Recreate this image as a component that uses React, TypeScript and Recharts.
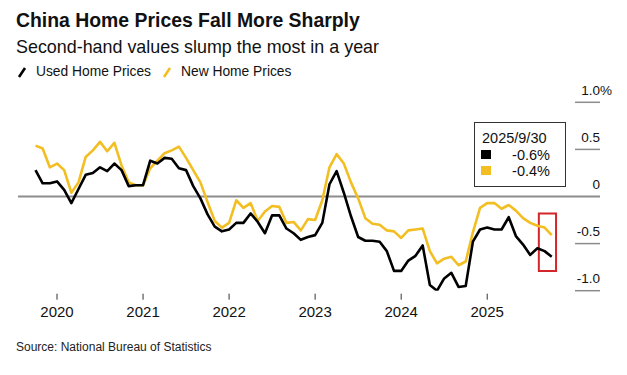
import React from "react";
import { LineChart, Line, XAxis, YAxis, ReferenceLine, ReferenceArea } from "recharts";

// month-on-month % change, Sep 2019 .. Sep 2025 (monthly)
const usedHome = [
  0.28, 0.14, 0.14, 0.16, 0.07, -0.07, 0.08, 0.23, 0.25, 0.31, 0.27, 0.35,
  0.28, 0.11, 0.12, 0.12, 0.38, 0.35, 0.41, 0.40, 0.30, 0.28, 0.11, -0.02,
  -0.19, -0.32, -0.37, -0.35, -0.28, -0.28, -0.18, -0.27, -0.39, -0.20, -0.20, -0.34,
  -0.39, -0.46, -0.43, -0.41, -0.28, 0.13, 0.27, 0.04, -0.21, -0.43, -0.47, -0.47,
  -0.48, -0.58, -0.79, -0.79, -0.68, -0.63, -0.52, -0.94, -1.0, -0.87, -0.81, -0.96,
  -0.95, -0.48, -0.35, -0.33, -0.35, -0.35, -0.22, -0.42, -0.51, -0.62, -0.55, -0.58,
  -0.64,
];

const newHome = [
  0.54, 0.51, 0.31, 0.35, 0.28, 0.04, 0.15, 0.42, 0.49, 0.58, 0.48, 0.57,
  0.33, 0.15, 0.12, 0.12, 0.30, 0.38, 0.46, 0.49, 0.53, 0.41, 0.28, 0.15,
  -0.06, -0.26, -0.33, -0.28, -0.04, -0.12, -0.07, -0.26, -0.16, -0.1, -0.11, -0.28,
  -0.27, -0.36, -0.24, -0.25, -0.04, 0.31, 0.45, 0.35, 0.15, -0.02, -0.23, -0.29,
  -0.3, -0.36, -0.37, -0.44, -0.36, -0.35, -0.34, -0.58, -0.71, -0.66, -0.64, -0.73,
  -0.69, -0.38, -0.12, -0.07, -0.07, -0.13, -0.09, -0.15, -0.23, -0.28, -0.31, -0.33,
  -0.41,
];

const yearTicks = [3, 15, 27, 39, 51, 63];
const yearLabels = ["2020", "2021", "2022", "2023", "2024", "2025"];
const valueTicks = [-1, -0.5, 0, 0.5, 1];
const valueLabels = ["-1.0", "-0.5", "0", "0.5", "1.0"];
const latestDate = "2025/9/30";

const data = usedHome.map((v, i) => ({ t: i, used: v, newHome: newHome[i] }));

const FONT = '"Liberation Sans", Arial, sans-serif';
const YELLOW = "#F2BE22";
const GRAY = "#8c8c8c";

const YearTick = (props: any) => {
  const { x, y, payload } = props;
  const idx = yearTicks.indexOf(payload.value);
  return (
    <g>
      <line x1={x} x2={x} y1={y + 3} y2={y + 9} stroke="#333" strokeWidth={1} />
      <text x={x} y={y + 26.5} textAnchor="middle" fontSize={15} fill="#111" fontFamily={FONT}>
        {yearLabels[idx]}
      </text>
    </g>
  );
};

const ValueTick = (props: any) => {
  const { x, y, payload } = props;
  const idx = valueTicks.indexOf(payload.value);
  return (
    <g>
      {payload.value !== 0 && (
        <line x1={x - 25} x2={x} y1={y} y2={y} stroke={GRAY} strokeWidth={1.5} />
      )}
      <text x={x} y={y - 7.5} textAnchor="end" fontSize={13.5} fill="#111" fontFamily={FONT}>
        {valueLabels[idx]}
      </text>
      {payload.value === 1 && (
        <text x={x} y={y - 7.5} textAnchor="start" fontSize={13.5} fill="#111" fontFamily={FONT}>
          %
        </text>
      )}
    </g>
  );
};

const LegendSlash = ({ color }: { color: string }) => (
  <svg width={10} height={12} style={{ display: "inline-block", verticalAlign: "middle" }}>
    <line x1={2} y1={11} x2={8} y2={2} stroke={color} strokeWidth={2.6} />
  </svg>
);

export default function App() {
  const lastUsed = usedHome[usedHome.length - 1];
  const lastNew = newHome[newHome.length - 1];
  return (
    <div
      style={{
        position: "absolute",
        left: 0,
        top: 0,
        width: 627,
        height: 375,
        background: "#fff",
        fontFamily: FONT,
        color: "#111",
        overflow: "hidden",
      }}
    >
      <div style={{ position: "absolute", left: 16, top: 11, fontSize: 19.4, lineHeight: "19px", fontWeight: 700 }}>
        China Home Prices Fall More Sharply
      </div>
      <div style={{ position: "absolute", left: 16, top: 38, fontSize: 17.9, lineHeight: "18px" }}>
        Second-hand values slump the most in a year
      </div>
      <div
        style={{
          position: "absolute",
          left: 17,
          top: 65,
          fontSize: 13.8,
          lineHeight: "14px",
          display: "flex",
          alignItems: "center",
          whiteSpace: "nowrap",
        }}
      >
        <LegendSlash color="#000" />
        <span style={{ marginLeft: 9 }}>Used Home Prices</span>
        <span style={{ marginLeft: 11 }}>
          <LegendSlash color={YELLOW} />
        </span>
        <span style={{ marginLeft: 9 }}>New Home Prices</span>
      </div>

      <div style={{ position: "absolute", left: 0, top: 0 }}>
        <LineChart
          width={627}
          height={375}
          data={data}
          margin={{ top: 102.3, right: 0, bottom: 0, left: 18 }}
        >
          <XAxis
            dataKey="t"
            type="number"
            domain={[-2.44, 78.73]}
            allowDataOverflow
            ticks={yearTicks}
            tick={YearTick}
            tickLine={false}
            axisLine={false}
            tickSize={0}
            tickMargin={0}
            height={84.3}
            interval={0}
          />
          <YAxis
            orientation="right"
            domain={[-1, 1]}
            ticks={valueTicks}
            tick={ValueTick}
            tickLine={false}
            axisLine={false}
            tickSize={0}
            tickMargin={0}
            width={27}
            allowDataOverflow
            interval={0}
          />
          <ReferenceLine y={0} stroke={GRAY} strokeWidth={2} />
          <Line
            type="linear"
            dataKey="newHome"
            stroke={YELLOW}
            strokeWidth={2.6}
            dot={false}
            strokeLinejoin="round"
            isAnimationActive={false}
          />
          <Line
            type="linear"
            dataKey="used"
            stroke="#000"
            strokeWidth={2.6}
            dot={false}
            strokeLinejoin="round"
            isAnimationActive={false}
          />
          <ReferenceArea
            x1={70.2}
            x2={72.6}
            y1={-0.79}
            y2={-0.18}
            fill="none"
            fillOpacity={0}
            stroke="#D3262A"
            strokeWidth={2}
            ifOverflow="visible"
          />
        </LineChart>
      </div>

      <div
        style={{
          position: "absolute",
          left: 474,
          top: 122,
          width: 90,
          height: 63,
          border: "1.5px solid #333",
          background: "#fff",
          fontSize: 14.5,
          lineHeight: "16px",
        }}
      >
        <div style={{ position: "absolute", left: 7, top: 7 }}>{latestDate}</div>
        <div style={{ position: "absolute", left: 6, top: 27, width: 10, height: 9, background: "#000" }} />
        <div style={{ position: "absolute", right: 15, top: 24, textAlign: "right" }}>{lastUsed.toFixed(1)}%</div>
        <div style={{ position: "absolute", left: 6, top: 43, width: 10, height: 9, background: YELLOW }} />
        <div style={{ position: "absolute", right: 15, top: 40, textAlign: "right" }}>{lastNew.toFixed(1)}%</div>
      </div>

      <div style={{ position: "absolute", left: 16, top: 341, fontSize: 12, lineHeight: "12px", color: "#222" }}>
        Source: National Bureau of Statistics
      </div>
    </div>
  );
}
